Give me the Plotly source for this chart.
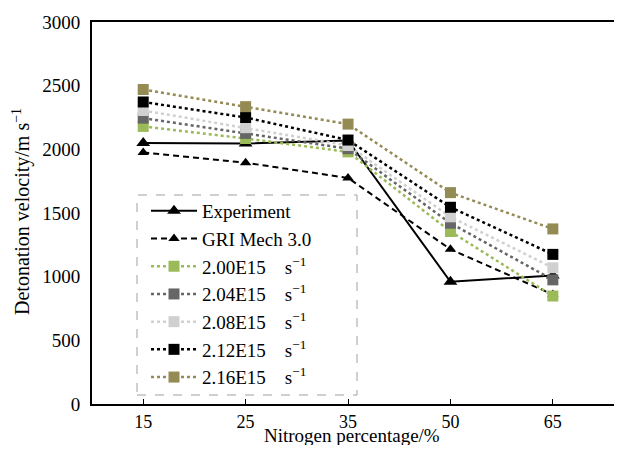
import plotly.graph_objects as go

categories = ["15", "25", "35", "50", "65"]
experiment = [2050, 2045, 2070, 960, 1010]
gri_mech = [1975, 1895, 1775, 1215, 860]
k200 = [2180, 2085, 1980, 1355, 848]
k204 = [2245, 2125, 2005, 1420, 975]
k208 = [2305, 2170, 2030, 1470, 1070]
k212 = [2372, 2250, 2073, 1545, 1175]
k216 = [2470, 2335, 2198, 1660, 1375]

rate_names = ["2.00E15", "2.04E15", "2.08E15", "2.12E15", "2.16E15"]
rate_values = [k200, k204, k208, k212, k216]
rate_colors = ["#9BBB59", "#666666", "#D0D0D0", "#000000", "#948A54"]

xpos = list(range(len(categories)))
FONT = "Liberation Serif, Times New Roman, serif"

fig = go.Figure()
fig.add_trace(go.Scatter(
    x=xpos, y=experiment, name="Experiment", mode="lines+markers",
    line=dict(color="black", width=2),
    marker=dict(symbol="triangle-up", size=12, color="black")))
fig.add_trace(go.Scatter(
    x=xpos, y=gri_mech, name="GRI Mech 3.0", mode="lines+markers",
    line=dict(color="black", width=2, dash="6px,4px"),
    marker=dict(symbol="triangle-up", size=10, color="black")))
for nm, vals, col in zip(rate_names, rate_values, rate_colors):
    fig.add_trace(go.Scatter(
        x=xpos, y=vals, name=nm + "    s<sup>−1</sup>", mode="lines+markers",
        line=dict(color=col, width=2.5, dash="dot"),
        marker=dict(symbol="square", size=11, color=col)))

# page body has an 8px margin; work in figure coordinates = screen - 8
FW, FH = 606, 437
L, T, B = 84, 14, 396
W = FW - L
H = B - T

def px(xs):
    return (xs - 8 - L) / W

def py(ys):
    return (B - (ys - 8)) / H

fig.update_layout(
    width=FW, height=FH,
    margin=dict(l=L, r=0, t=T, b=FH - B, autoexpand=False),
    paper_bgcolor="white", plot_bgcolor="white",
    font=dict(family=FONT, size=19, color="black"),
    showlegend=True,
    legend=dict(
        x=px(146), y=py(192), xanchor="left", yanchor="top",
        bgcolor="rgba(255,255,255,0)", borderwidth=0,
        font=dict(family=FONT, size=19), itemwidth=46, tracegroupgap=0),
    xaxis=dict(
        tickmode="array", tickvals=xpos, ticktext=categories,
        range=[-0.5, 4.597], automargin=False,
        showline=True, linecolor="black", linewidth=2, mirror=True,
        ticks="inside", ticklen=5, tickcolor="black", tickwidth=1,
        tickfont=dict(family=FONT, size=18),
        showgrid=False, zeroline=False),
    yaxis=dict(
        range=[0, 3000], dtick=500, automargin=False,
        showline=True, linecolor="black", linewidth=2,
        ticks="", showgrid=False, zeroline=False, ticklabelstandoff=6,
        tickfont=dict(family=FONT, size=19)),
    annotations=[
        dict(text="Nitrogen percentage/%", xref="paper", yref="paper",
             x=px(352), y=py(435), xanchor="center", yanchor="middle",
             showarrow=False, font=dict(family=FONT, size=19)),
        dict(text="Detonation velocity/m s<sup>−1</sup>", xref="paper", yref="paper",
             x=px(21), y=py(212), xanchor="center", yanchor="middle", textangle=-90,
             showarrow=False, font=dict(family=FONT, size=20)),
    ],
    shapes=[dict(type="rect", xref="paper", yref="paper",
                 x0=px(137), x1=px(357), y0=py(395), y1=py(195),
                 line=dict(color="#A0A0A0", width=1, dash="dash"))],
)

fig.write_html("out.html")
